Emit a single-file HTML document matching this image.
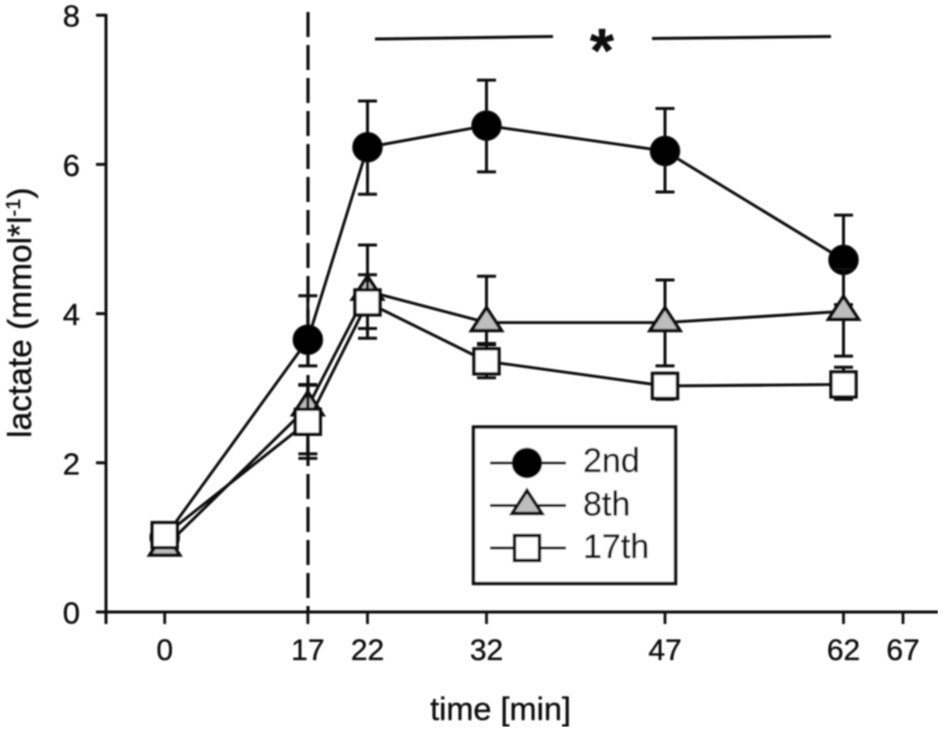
<!DOCTYPE html>
<html>
<head>
<meta charset="utf-8">
<style>
html,body{margin:0;padding:0;background:#fff;}
svg{display:block;}
text{font-family:"Liberation Sans",sans-serif;fill:#111;stroke:#111;stroke-width:0.35px;}
</style>
</head>
<body>
<svg id="chart" width="945" height="735" viewBox="0 0 945 735" xmlns="http://www.w3.org/2000/svg">
<defs><filter id="soft" x="0" y="0" width="100%" height="100%"><feGaussianBlur stdDeviation="0.7"/></filter></defs>
<rect width="945" height="735" fill="#fff"/>
<g id="root" filter="url(#soft)"></g>
</svg>
<script>
const times = [0, 17, 22, 32, 47, 62];
const xTickLabels = [0, 17, 22, 32, 47, 62, 67];
const yTickLabels = [0, 2, 4, 6, 8];
const mean2nd = [1.0, 3.65, 6.23, 6.52, 6.18, 4.72];
const upper2nd = [1.1, 4.24, 6.85, 7.13, 6.75, 5.32];
const lower2nd = [0.9, 3.3, 5.6, 5.9, 5.63, 4.12];
const mean8th = [0.87, 2.75, 4.3, 3.88, 3.88, 4.03];
const upper8th = [0.95, 3.05, 4.92, 4.5, 4.45, 4.6];
const lower8th = [0.8, 2.12, 3.8, 3.6, 3.3, 3.43];
const mean17th = [1.03, 2.55, 4.15, 3.36, 3.03, 3.05];
const upper17th = [1.12, 3.04, 4.52, 3.58, 3.2, 3.28];
const lower17th = [0.94, 2.06, 3.67, 3.14, 2.85, 2.85];

const NS = 'http://www.w3.org/2000/svg';
const root = document.getElementById('root');
const INK = '#0c0c0c';

function xScale(t) {
  return t <= 17 ? 164.7 + t * 8.42 : 308 + (t - 17) * 11.9;
}
function yScale(v) {
  return 612 - v * 74.6;
}
function make(tag, attrs, parent) {
  const el = document.createElementNS(NS, tag);
  for (const k in attrs) el.setAttribute(k, attrs[k]);
  (parent || root).appendChild(el);
  return el;
}
function seg(x1, y1, x2, y2, w, parent) {
  return make('line', {x1: x1, y1: y1, x2: x2, y2: y2, stroke: INK, 'stroke-width': w}, parent);
}
function label(str, x, y, size, anchor, parent) {
  const t = make('text', {x: x, y: y, 'font-size': size, 'text-anchor': anchor}, parent);
  t.textContent = str;
  return t;
}
function circle(x, y, parent) {
  return make('circle', {cx: x, cy: y, r: 14.5, fill: '#050505', stroke: INK, 'stroke-width': 1.5}, parent);
}
function triangle(x, y, parent) {
  return make('polygon', {points: (x - 15) + ',' + (y + 8) + ' ' + x + ',' + (y - 15) + ' ' + (x + 15) + ',' + (y + 8), fill: '#bdbdbd', stroke: INK, 'stroke-width': 3.4, 'stroke-linejoin': 'miter'}, parent);
}
function square(x, y, parent) {
  return make('rect', {x: x - 12.5, y: y - 12.5, width: 25, height: 25, fill: '#fff', stroke: INK, 'stroke-width': 3.4}, parent);
}

// axes
const yAxis = seg(106, 14, 106, 624, 3);


const xAxis = seg(96, 612, 938, 612, 3);



yTickLabels.forEach(function (v) {
  const tick = seg(96, yScale(v), 106, yScale(v), 3);
  
  
  const txt = label(String(v), 80, yScale(v) + 11.5, 31, 'end');
  
  
});
xTickLabels.forEach(function (t) {
  const tick = seg(xScale(t), 612, xScale(t), 624, 2.8);
  
  
  const txt = label(String(t), xScale(t), 660, 30, 'middle');
  
  
});

const xTitle = label('time [min]', 500.5, 720, 32.5, 'middle');



const yTitle = make('text', {transform: 'translate(31,438) rotate(-90)', 'font-size': 33.5});


yTitle.textContent = 'lactate (mmol*l';
const sup = make('tspan', {dy: -11, 'font-size': 20}, yTitle);
sup.textContent = '-1';
const close = make('tspan', {dy: 11}, yTitle);
close.textContent = ')';

// event marker and significance
const dashed = make('line', {x1: 308, y1: 12, x2: 308, y2: 612, stroke: INK, 'stroke-width': 3.2, 'stroke-dasharray': '25 8'});


const bracketL = seg(375, 39, 553, 36.5, 3);


const bracketR = seg(652, 38.5, 831, 36.5, 3);


const star = label('*', 602, 72, 62, 'middle');
star.setAttribute('font-weight', 'bold');



// series
function drawSeries(name, means, uppers, lowers, marker) {
  const g = make('g', {});
  
  
  times.forEach(function (t, i) {
    const x = xScale(t);
    const stem = seg(x, yScale(uppers[i]), x, yScale(lowers[i]), 3, g);
    
    
    const capU = seg(x - 9.5, yScale(uppers[i]), x + 9.5, yScale(uppers[i]), 3, g);
    
    
    const capL = seg(x - 9.5, yScale(lowers[i]), x + 9.5, yScale(lowers[i]), 3, g);
    
    
  });
  const pts = times.map(function (t, i) { return xScale(t) + ',' + yScale(means[i]); }).join(' ');
  const line = make('polyline', {points: pts, fill: 'none', stroke: INK, 'stroke-width': 2.9}, g);
  
  
  times.forEach(function (t, i) {
    const m = marker(xScale(t), yScale(means[i]), g);
    
    
  });
}
drawSeries('2nd', mean2nd, upper2nd, lower2nd, circle);
drawSeries('8th', mean8th, upper8th, lower8th, triangle);
drawSeries('17th', mean17th, upper17th, lower17th, square);

// legend
const legend = make('g', {});


const box = make('rect', {x: 473.5, y: 427, width: 202, height: 156.5, fill: '#fff', stroke: INK, 'stroke-width': 3.4}, legend);


const legendNames = ['2nd', '8th', '17th'];
const legendMarkers = [circle, triangle, square];
legendNames.forEach(function (name, i) {
  const y = 463 + i * 42.5;
  const ln = seg(490, y, 566, y, 2.9, legend);
  
  
  const mk = legendMarkers[i](527, y, legend);
  
  
  const txt = label(name, 583, y + 9 + (i === 0 ? 0 : 1), 34, 'start', legend);
  
  
});
</script>
</body>
</html>
